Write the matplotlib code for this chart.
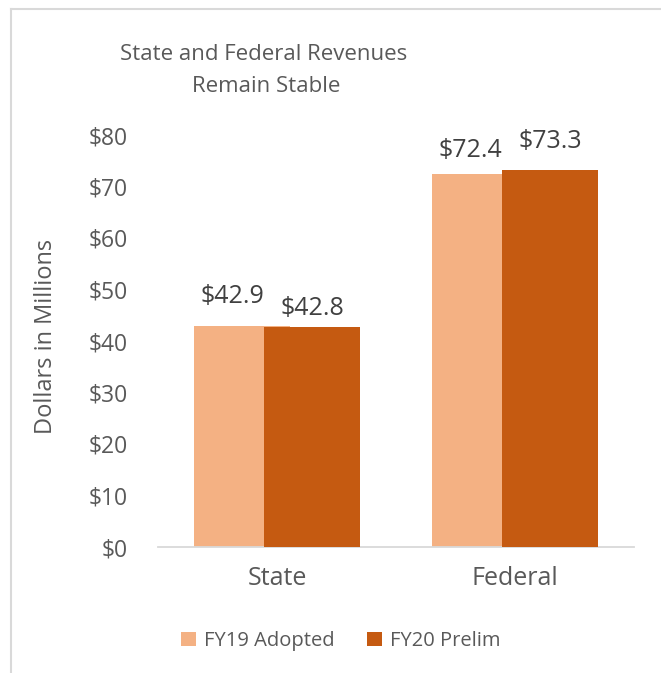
import numpy as np
import matplotlib.pyplot as plt
from matplotlib.lines import Line2D

# chart data
categories = ['State', 'Federal']
series_names = ['FY19 Adopted', 'FY20 Prelim']
fy19 = [42.9, 72.4]
fy20 = [42.8, 73.3]
y_ticks = [0, 10, 20, 30, 40, 50, 60, 70, 80]

colors = ['#F4B183', '#C55A11']
text_color = '#595959'
line_color = '#D9D9D9'

plt.rcParams['font.family'] = ['Open Sans', 'DejaVu Sans']

fig = plt.figure(figsize=(6.61, 6.73), dpi=100)
ax = fig.add_axes([158 / 661, 1 - 547 / 673, 476 / 661, 412 / 673])

x = np.arange(len(categories))
width = 0.403
offset = 0.148

# FY19 first, FY20 overlaps on top (Excel style overlap)
bars19 = ax.bar(x - offset, fy19, width, color=colors[0], label=series_names[0], zorder=2)
bars20 = ax.bar(x + offset, fy20, width, color=colors[1], label=series_names[1], zorder=3)

# data labels (offsets in pixels, nudged the way Excel places them)
label_shift = {
    0: [(-9, 23), (-9, 17)],
    1: [(0, 12), (0, 22)],
}
px = 72 / 100
for s, (bars, vals) in enumerate([(bars19, fy19), (bars20, fy20)]):
    for i, (b, v) in enumerate(zip(bars, vals)):
        dx, dy = label_shift[s][i]
        ax.annotate(f'${v:.1f}', (b.get_x() + b.get_width() / 2, v),
                    xytext=(dx * px, dy * px), textcoords='offset points',
                    ha='center', va='baseline', fontsize=18, color='#404040',
                    zorder=4)

ax.set_xlim(-0.5, 1.5)
ax.set_ylim(0, 80)
ax.set_yticks(y_ticks)
ax.set_yticklabels([f'${t}' for t in y_ticks], fontsize=16.5, color=text_color)
ax.set_xticks(x)
ax.set_xticklabels(categories, fontsize=18, color=text_color)
ax.tick_params(axis='y', length=0, pad=22)
ax.tick_params(axis='x', length=0, pad=14)

for side in ['top', 'right', 'left']:
    ax.spines[side].set_visible(False)
ax.spines['bottom'].set_color(line_color)
ax.spines['bottom'].set_linewidth(1.3)

fig.text(46 / 661, 1 - 336 / 673, 'Dollars in Millions', rotation=90,
         ha='center', va='center', fontsize=17, color=text_color)

# title
fig.text(264 / 661, 1 - 60 / 673, 'State and Federal Revenues',
         ha='center', va='baseline', fontsize=16, color=text_color)
fig.text(266 / 661, 1 - 92 / 673, 'Remain Stable',
         ha='center', va='baseline', fontsize=16, color=text_color)

# legend
fig.legend(handles=[bars19, bars20], labels=series_names, loc='center',
           bbox_to_anchor=(341 / 661, 1 - 641 / 673), ncol=2, frameon=False,
           fontsize=14.5, handlelength=0.75, handleheight=0.75,
           handletextpad=0.4, columnspacing=1.6, labelcolor=text_color)

# chart-area border (top and left edges visible)
fig.add_artist(Line2D([11 / 661, 1], [1 - 9 / 673, 1 - 9 / 673],
                      transform=fig.transFigure, color=line_color, lw=1.5))
fig.add_artist(Line2D([11 / 661, 11 / 661], [0, 1 - 9 / 673],
                      transform=fig.transFigure, color=line_color, lw=1.5))

fig.savefig('out.png', dpi=100)
